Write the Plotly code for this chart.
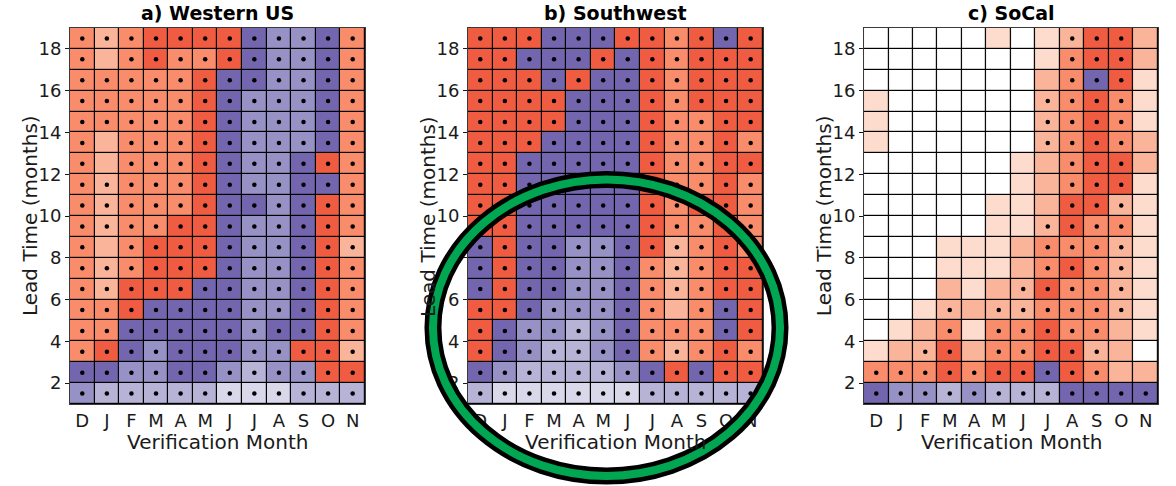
import plotly.graph_objects as go

# Verification months (columns) and lead times (rows, 1..18 months)
months = ["D", "J", "F", "M", "A", "M", "J", "J", "A", "S", "O", "N"]
leads = list(range(1, 19))

# Skill-difference class per cell: -4 (strong purple) .. 0 (none) .. 4 (strong red)
# Rows listed from lead 1 to lead 18.
western_us = [
    [-3, -2, -2, -2, -2, -2, -1, -1, -1, -2, -2, -2],
    [-4, -4, -3, -3, -4, -4, -3, -2, -3, -3, 4, 4],
    [3, 4, -4, -3, -4, -4, -4, -3, -3, 4, 4, 2],
    [3, 3, -4, -4, -4, -4, -4, -3, -4, -4, 4, 3],
    [3, 3, 4, -4, -4, -4, -4, -3, -3, -4, 4, 3],
    [3, 2, 4, 4, 4, -4, -4, -3, -3, -4, 4, 3],
    [3, 2, 3, 4, 4, 4, -4, -3, -3, -4, 4, 3],
    [3, 2, 3, 4, 4, 4, -4, -3, -3, -4, 4, 2],
    [3, 2, 3, 3, 4, 4, -4, -3, -3, -4, 4, 3],
    [3, 2, 3, 3, 3, 4, -4, -4, -3, -4, 4, 3],
    [3, 2, 3, 3, 3, 4, -4, -3, -3, -4, -4, 3],
    [3, 2, 3, 3, 3, 4, -4, -3, -3, -4, 4, 3],
    [3, 2, 3, 3, 3, 4, -4, -3, -3, -3, -4, 3],
    [3, 3, 3, 3, 3, 4, -4, -3, -3, -3, -4, 3],
    [3, 3, 3, 3, 3, 4, -4, -3, -3, -3, -4, 3],
    [3, 3, 3, 3, 3, 4, -4, -4, -3, -3, -4, 3],
    [3, 2, 3, 4, 3, 3, 4, -4, -3, -3, -4, 3],
    [3, 2, 3, 4, 4, 4, 4, -4, -3, -3, -4, 3],
]
southwest = [
    [-2, -1, -1, -1, -1, -1, -1, -2, -2, -2, -2, -2],
    [-4, -3, -2, -2, -2, -2, -3, -4, 4, -4, 4, 4],
    [4, -4, -3, -2, -2, -3, -4, 3, 2, 3, 4, 3],
    [4, -4, -3, -3, -2, -3, -4, 3, 3, 3, -4, 4],
    [4, 4, -4, -3, -3, -3, -4, 3, 2, 3, -4, 4],
    [-4, 4, -4, -4, -3, -3, -4, 3, 2, 3, 4, 4],
    [-4, 4, -4, -4, -3, -3, -4, 3, 2, 3, 4, 4],
    [-4, 4, -4, -4, -3, -3, -4, 4, 2, 3, 4, 3],
    [4, 4, -4, -4, -4, -4, -4, 4, 3, 3, 4, 3],
    [4, 4, -4, -4, -4, -4, -4, 4, 3, 4, 4, 3],
    [4, 4, -4, -4, -4, -4, -4, 4, 3, 3, 4, 3],
    [4, 4, -4, -4, -4, -4, -4, 4, 3, 3, 4, 4],
    [4, 4, 4, -4, -4, -4, -4, 4, 3, 3, 4, 3],
    [4, 4, 4, 4, -4, -4, -4, 4, 3, 3, 4, 4],
    [4, 4, 4, 4, -4, -4, -4, 4, 3, 4, 4, 4],
    [4, 4, 4, -4, 4, -4, -4, 4, 3, 4, 4, 4],
    [4, 4, -4, -4, -4, 4, -4, 4, 3, 4, 4, 4],
    [4, 4, 4, -4, -4, -4, 4, 4, 3, 4, -4, 4],
]
socal = [
    [-4, -3, -3, -2, -3, -2, -2, -2, -4, -4, -4, -4],
    [3, 3, 3, 4, 3, 4, 4, -4, 4, 3, 2, 2],
    [1, 2, 2, 4, 2, 3, 3, 4, 4, 2, 2, 0],
    [0, 1, 2, 3, 1, 3, 3, 4, 3, 3, 2, 1],
    [0, 0, 1, 2, 2, 2, 2, 3, 3, 3, 2, 1],
    [0, 0, 0, 2, 1, 2, 2, 4, 3, 3, 2, 1],
    [0, 0, 0, 1, 1, 1, 2, 3, 4, 3, 2, 1],
    [0, 0, 0, 1, 1, 1, 2, 3, 3, 3, 2, 1],
    [0, 0, 0, 0, 0, 1, 1, 2, 4, 3, 3, 1],
    [0, 0, 0, 0, 0, 1, 1, 2, 4, 4, 2, 1],
    [0, 0, 0, 0, 0, 0, 1, 2, 3, 4, 4, 1],
    [0, 0, 0, 0, 0, 0, 1, 2, 3, 4, 4, 2],
    [1, 0, 0, 0, 0, 0, 0, 2, 3, 4, 3, 2],
    [1, 0, 0, 0, 0, 0, 0, 2, 3, 4, 3, 1],
    [1, 0, 0, 0, 0, 0, 0, 2, 3, 4, 3, 1],
    [0, 0, 0, 0, 0, 0, 0, 2, 3, -4, 4, 1],
    [0, 0, 0, 0, 0, 0, 0, 1, 3, 4, 4, 2],
    [0, 0, 0, 0, 0, 1, 0, 1, 2, 4, 4, 2],
]

# Significance flags (1 = significant), rows from lead 1 to lead 18
western_us_sig = [[1] * 12 for _ in leads]
for lead, col in [(17, 1), (13, 1), (12, 1), (8, 1)]:
    western_us_sig[lead - 1][col] = 0
southwest_sig = [[1] * 12 for _ in leads]
southwest_sig[5 - 1][8] = 0
socal_sig = [
    [1, 1, 1, 1, 1, 1, 1, 1, 1, 1, 1, 1],
    [1, 1, 1, 1, 1, 1, 1, 1, 1, 1, 0, 0],
    [0, 0, 1, 1, 0, 1, 1, 1, 1, 1, 0, 0],
    [0, 0, 0, 1, 0, 1, 1, 1, 1, 1, 0, 0],
    [0, 0, 0, 1, 0, 1, 1, 1, 1, 1, 1, 0],
    [0, 0, 0, 0, 0, 0, 1, 1, 1, 1, 1, 0],
    [0, 0, 0, 0, 0, 0, 0, 1, 1, 1, 1, 0],
    [0, 0, 0, 0, 0, 0, 0, 1, 1, 1, 1, 0],
    [0, 0, 0, 0, 0, 0, 0, 1, 1, 1, 1, 0],
    [0, 0, 0, 0, 0, 0, 0, 0, 1, 1, 1, 0],
    [0, 0, 0, 0, 0, 0, 0, 0, 1, 1, 1, 0],
    [0, 0, 0, 0, 0, 0, 0, 0, 1, 1, 1, 0],
    [0, 0, 0, 0, 0, 0, 0, 1, 1, 1, 1, 0],
    [0, 0, 0, 0, 0, 0, 0, 1, 1, 1, 1, 0],
    [0, 0, 0, 0, 0, 0, 0, 1, 1, 1, 1, 0],
    [0, 0, 0, 0, 0, 0, 0, 0, 1, 1, 1, 0],
    [0, 0, 0, 0, 0, 0, 0, 0, 1, 1, 1, 0],
    [0, 0, 0, 0, 0, 0, 0, 0, 1, 1, 1, 0],
]

panel_titles = ["a) Western US", "b) Southwest", "c) SoCal"]
panels = [(western_us, western_us_sig), (southwest, southwest_sig), (socal, socal_sig)]

# Discrete palette for classes -4..4
class_colors = [
    "#7366ae", "#9792c5", "#b6b3d7", "#d9d7ea",
    "#ffffff",
    "#fddccd", "#fab499", "#f88c6b", "#f05c42",
]
n = len(class_colors)
colorscale = []
for i, c in enumerate(class_colors):
    colorscale.append([i / n, c])
    colorscale.append([(i + 1) / n, c])

FONT = "DejaVu Sans"
TXT = "#1a1a1a"
domains = [[0.0, 0.2711], [0.3658, 0.6369], [0.7298, 1.0]]

fig = go.Figure()
x_idx = list(range(len(months)))
y_mid = [l + 0.5 for l in leads]

for k, ((vals, sig), title) in enumerate(zip(panels, panel_titles)):
    ax = "" if k == 0 else str(k + 1)
    fig.add_trace(go.Heatmap(
        z=vals, x=x_idx, y=y_mid,
        colorscale=colorscale, zmin=-4.5, zmax=4.5,
        showscale=False, xgap=1.2, ygap=1.2,
        xaxis="x" + ax, yaxis="y" + ax, hoverinfo="skip",
    ))
    dx, dy = [], []
    for r, row in enumerate(sig):
        for c, s in enumerate(row):
            if s:
                dx.append(c)
                dy.append(y_mid[r])
    fig.add_trace(go.Scatter(
        x=dx, y=dy, mode="markers",
        marker=dict(size=4.5, color="black"),
        xaxis="x" + ax, yaxis="y" + ax, hoverinfo="skip", showlegend=False,
    ))
    xa = dict(
        domain=domains[k], range=[-0.5, 11.5], anchor="y" + ax,
        tickmode="array", tickvals=x_idx, ticktext=months,
        ticks="", showgrid=False, zeroline=False,
        showline=True, mirror=True, linecolor="#3a3a3a", linewidth=1,
        tickfont=dict(family=FONT, size=18, color=TXT),
        fixedrange=True,
    )
    ya = dict(
        domain=[0, 1], range=[1, 19], anchor="x" + ax,
        tickmode="array", tickvals=list(range(2, 19, 2)),
        ticks="outside", ticklen=4, tickcolor="#1a1a1a",
        showgrid=False, zeroline=False,
        showline=True, mirror=True, linecolor="#3a3a3a", linewidth=1,
        tickfont=dict(family=FONT, size=18, color=TXT),
        fixedrange=True,
    )
    fig.update_layout(**{"xaxis" + ax: xa, "yaxis" + ax: ya})

    xref = "x" + ax + " domain"
    yref = "y" + ax + " domain"
    fig.add_annotation(text="<b>" + title + "</b>", xref=xref, yref=yref,
                       x=0.5, y=1.0, yshift=2, xanchor="center", yanchor="bottom",
                       showarrow=False, font=dict(family=FONT, size=19, color="black"))
    fig.add_annotation(text="Verification Month", xref=xref, yref=yref,
                       x=0.5, y=-0.101, xanchor="center", yanchor="middle",
                       showarrow=False, font=dict(family=FONT, size=20, color=TXT))
    fig.add_annotation(text="Lead Time (months)", xref=xref, yref=yref,
                       x=-0.1356, y=0.5, xanchor="center", yanchor="middle", textangle=-90,
                       showarrow=False, font=dict(family=FONT, size=20, color=TXT))

# Highlight ring around the lower part of the Southwest panel
ring = dict(type="circle", xref="paper", yref="paper",
            x0=0.3336, x1=0.6526, y0=-0.1915, y1=0.5971, layer="above")
fig.add_shape(**ring, line=dict(color="black", width=17))
fig.add_shape(**ring, line=dict(color="#00a651", width=8))

fig.update_layout(
    width=1176, height=486,
    margin=dict(l=70, r=18, t=28, b=82),
    paper_bgcolor="white", plot_bgcolor="black",
    showlegend=False,
)

fig.write_html("out.html")
